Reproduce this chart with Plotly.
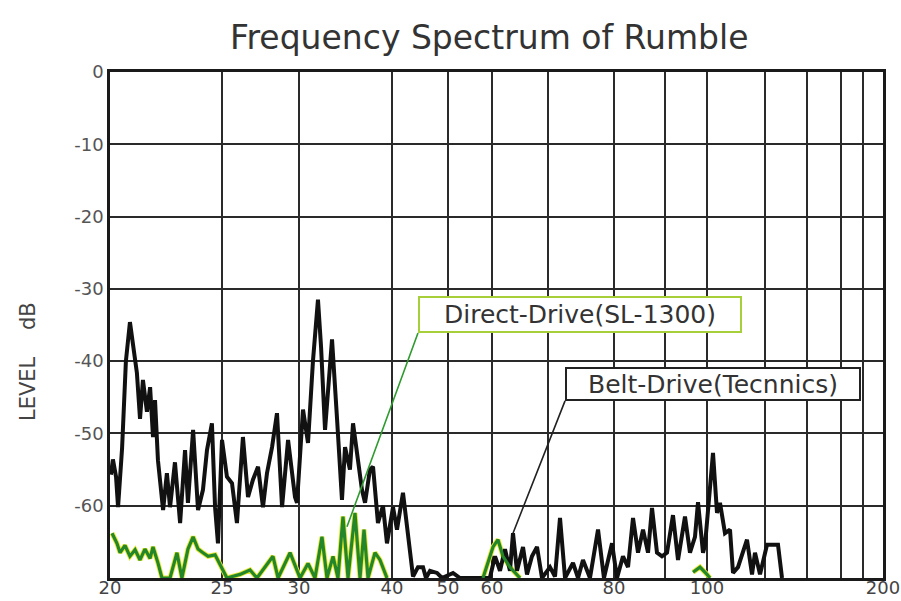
import numpy as np
import plotly.graph_objects as go

# ---- axis layout of the original chart (non-uniform frequency scale) ----
GRID_FREQ = [20, 25, 30, 40, 50, 60, 70, 80, 90, 100, 120, 140, 160, 180, 200]
GRID_POS = [0, 112, 189, 282, 338, 382, 438, 504, 555, 597, 655, 697, 731, 753, 773]
TICK_LABELS = {20: "20", 25: "25", 30: "30", 40: "40", 50: "50", 60: "60",
               80: "80", 100: "100", 200: "200"}
Y_TICKS = [0, -10, -20, -30, -40, -50, -60, -70]
Y_TICK_TEXT = ["0", "-10", "-20", "-30", "-40", "-50", "-60", ""]

# ---- Belt-Drive (Technics) spectrum: frequency [Hz], level [dB] ----
BELT_FREQ = [20.04, 20.13, 20.27, 20.36, 20.54, 20.71, 20.89, 21.03, 21.2, 21.34, 21.47, 21.65,
             21.79, 21.92, 22.01, 22.14, 22.37, 22.54, 22.68, 22.9, 23.13, 23.35, 23.48, 23.71,
             23.93, 24.15, 24.33, 24.55, 24.69, 24.82, 25.0, 25.32, 25.65, 25.97, 26.36, 26.69,
             27.01, 27.34, 27.66, 27.92, 28.25, 28.57, 28.9, 29.29, 29.74, 29.87, 30.43, 30.97,
             31.5, 32.04, 32.37, 32.8, 33.55, 34.09, 34.62, 34.95, 35.48, 35.81, 36.34, 36.77,
             37.1, 37.63, 37.96, 38.49, 39.03, 39.46, 40.18, 40.89, 41.96, 42.86, 43.75, 44.64,
             45.54, 46.07, 46.79, 48.04, 48.93, 51.14, 52.73, 55.0, 59.5, 60.54, 61.43, 62.32,
             63.21, 63.75, 64.46, 65.54, 66.25, 67.14, 68.04, 68.93, 70.3, 71.06, 71.82, 72.58,
             73.79, 74.55, 75.3, 76.36, 77.58, 78.48, 79.7, 80.59, 81.76, 82.75, 83.73, 84.71,
             85.69, 86.67, 87.45, 88.43, 89.41, 90.48, 91.9, 93.1, 94.76, 95.95, 97.14, 97.86,
             99.05, 99.52, 101.03, 102.07, 103.45, 104.48, 106.2, 107.93, 108.97, 110.69, 113.79,
             115.52, 116.55, 118.28, 120.95, 126.19, 128.1]
BELT_LEVEL = [-55.7, -53.6, -56, -60.2, -52, -40, -34.6, -38, -41.6, -48, -42.6, -47,
              -43.6, -50.5, -45.4, -53.7, -60.6, -55.5, -60.2, -54, -62.4, -52.3, -59.6, -49.5,
              -60.6, -57.8, -52.3, -48.6, -60.2, -65.2, -50.9, -56, -56.9, -62.4, -50.5, -58.8,
              -56.4, -54.6, -60.2, -55.5, -51.9, -47.2, -60.2, -50.9, -58.8, -59.6, -46.7, -51.3,
              -40, -31.5, -38, -49.5, -37, -48, -59.2, -51.9, -55, -48.6, -54, -57.8,
              -59.6, -55, -54.6, -62.4, -60, -65.2, -60.2, -63.3, -58.2, -64, -69.8, -68.5,
              -68.5, -70, -69, -69.3, -70, -69.3, -70, -70, -70, -67, -69, -66,
              -69, -63.8, -69, -65.7, -69.5, -67, -65.7, -70, -68.5, -69.8, -61.7, -70,
              -67.9, -70, -67.5, -70, -63.3, -70, -65.2, -70, -67, -68.5, -61.7, -66.5,
              -63.3, -66.5, -60.3, -66.5, -67, -66.5, -61.3, -67.5, -61.5, -66.5, -64.3, -59.5,
              -66.5, -65.5, -57.4, -52.7, -61, -59.6, -63.8, -63.3, -69.3, -68.5, -64.7,
              -69.5, -66.5, -69.5, -65.4, -65.4, -70]

# ---- Direct-Drive (SL-1300) spectrum (None = trace sits on the -70 dB floor) ----
DIRECT_FREQ = [20.09, 20.31, 20.45, 20.67, 20.89, 21.12, 21.34, 21.56, 21.79, 21.92, 22.14, 22.32,
               22.68, 22.99, 23.21, 23.48, 23.71, 23.93, 24.15, 24.38, 24.69, 25.0, 25.32, 26.17,
               26.82, 27.27, 28.31, 28.64, 29.42, 30.11, 30.97, 31.72, 32.47, 33.01, 33.66, 34.19,
               34.73, 35.27, 36.02, 36.56, 36.99, 37.42, 38.17, 38.71, 39.46, 48.0, 57.95, 60.18,
               61.07, 61.96, 63.21, 64.46, 65.0, 80.0, 96.67, 98.33, 100.0, 101.03]
DIRECT_LEVEL = [-63.8, -65.2, -66.5, -65.5, -67, -66.1, -67.5, -66, -67.3, -65.7, -67.9, -70,
                -70, -66.5, -70, -66, -64.3, -66, -66.5, -67, -66.8, -68.8, -70, -69.5,
                -68.9, -70, -67, -70, -66.5, -70, -68, -70, -64.3, -70, -67, -70,
                -61.5, -70, -61, -70, -63.3, -70, -66.5, -67.5, -70, None, -70, -65.7,
                -64.7, -67, -68.5, -69.5, -70, None, -69.2, -68.5, -69.5, -70]

# label callouts: (text, point freq, point level, box corner freq, box corner level)
DIRECT_LABEL = ("Direct-Drive(SL-1300)", 35.16, -62.9, 44.64, -36.1)
BELT_LABEL = ("Belt-Drive(Tecnnics)", 63.75, -63.8, 72.58, -45.5)


def fpos(f):
    """Map frequency onto the chart's non-uniform horizontal scale."""
    return np.interp(f, GRID_FREQ, GRID_POS)


FONT = "DejaVu Sans"

fig = go.Figure()
fig.add_trace(go.Scatter(x=fpos(DIRECT_FREQ), y=DIRECT_LEVEL, mode="lines",
                         line=dict(color="#e8e830", width=5), hoverinfo="skip",
                         showlegend=False, connectgaps=False))
fig.add_trace(go.Scatter(x=fpos(BELT_FREQ), y=BELT_LEVEL, mode="lines",
                         line=dict(color="#111111", width=4), name="Belt-Drive", showlegend=False))
fig.add_trace(go.Scatter(x=fpos(DIRECT_FREQ), y=DIRECT_LEVEL, mode="lines",
                         line=dict(color="#23862a", width=3.2), name="Direct-Drive",
                         showlegend=False, connectgaps=False))

tickvals = list(fpos(GRID_FREQ))
ticktext = [TICK_LABELS.get(f, "") for f in GRID_FREQ]

fig.update_xaxes(range=[0, GRID_POS[-1]], tickmode="array", tickvals=tickvals, ticktext=ticktext,
                 showgrid=True, gridcolor="#2a2a2a", gridwidth=1.5, zeroline=False,
                 showline=True, linecolor="#1a1a1a", linewidth=2.5, mirror=True,
                 ticks="", ticklen=0, ticklabelstandoff=-8,
                 automargin=False, ticklabeloverflow="allow",
                 tickfont=dict(family=FONT, size=18, color="#444"))
fig.update_yaxes(range=[-70, 0], tickmode="array", tickvals=Y_TICKS, ticktext=Y_TICK_TEXT,
                 showgrid=True, gridcolor="#2a2a2a", gridwidth=1.5, zeroline=False,
                 showline=True, linecolor="#1a1a1a", linewidth=2.5, mirror=True, ticks="",
                 automargin=False,
                 tickfont=dict(family=FONT, size=18, color="#555"))

annotations = []
for (text, fx, ly, bfx, bly), bcol, lcol, w, h in [
        (DIRECT_LABEL, "#a6cf3a", "#2f9a2f", 318, 31),
        (BELT_LABEL, "#222222", "#222222", 290, 28)]:
    annotations.append(dict(
        x=float(fpos(fx)), y=ly, xref="x", yref="y",
        ax=float(fpos(bfx)), ay=bly, axref="x", ayref="y",
        text=text, showarrow=True, arrowhead=0, arrowwidth=1.6, arrowcolor=lcol,
        standoff=0, startstandoff=0,
        xanchor="left", yanchor="bottom", width=w, height=h, align="center",
        font=dict(family=FONT, size=25, color="#333"),
        bgcolor="white", bordercolor=bcol, borderwidth=2, borderpad=1))

annotations.append(dict(
    x=-0.106, y=0.427, xref="paper", yref="paper", showarrow=False,
    xanchor="center", yanchor="middle",
    text="LEVEL\u00a0\u00a0\u00a0\u00a0dB", textangle=-90,
    font=dict(family=FONT, size=21, color="#444")))

fig.update_layout(
    width=901, height=601,
    margin=dict(l=110, r=18, t=72, b=23),
    paper_bgcolor="white", plot_bgcolor="white",
    title=dict(text="Frequency Spectrum of Rumble", x=0.543, xref="container", xanchor="center",
               y=0.938, yref="container", yanchor="middle",
               font=dict(family=FONT, size=33, color="#333")),
    annotations=annotations,
)

fig.write_html("out.html", config={"displayModeBar": False},
               post_script="document.body.style.margin='0';")
